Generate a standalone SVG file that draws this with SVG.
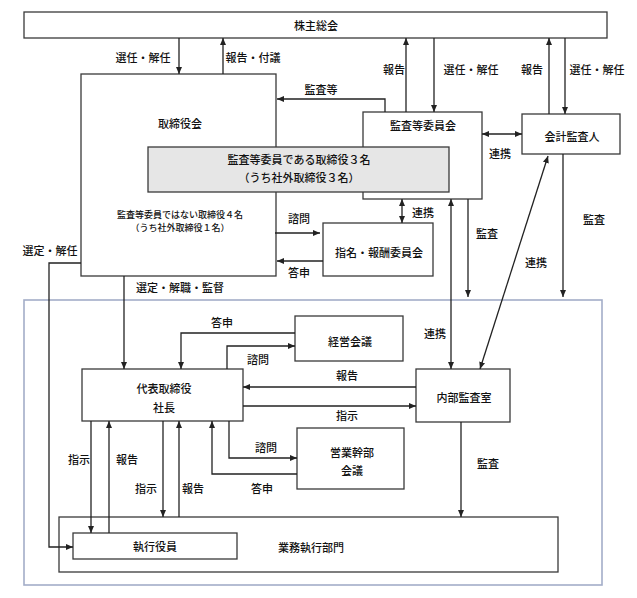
<svg xmlns="http://www.w3.org/2000/svg" width="637" height="598" viewBox="0 0 637 598">
<style>
.box{fill:#fff;stroke:#3a3a3a;stroke-width:1.3}
.gray{fill:#e6e6e6;stroke:#3a3a3a;stroke-width:1.3}
.frame{fill:none;stroke:#a3adc8;stroke-width:1.6}
.c{fill:none;stroke:#222;stroke-width:1.3}
.a{marker-end:url(#ah)}
.b{marker-start:url(#ah);marker-end:url(#ah)}
text{font-family:"Noto Sans CJK JP","Noto Sans",sans-serif;font-size:11px;font-weight:500;fill:#111;text-anchor:middle;dominant-baseline:central}
.s{font-size:9px}
</style>
<defs>
<marker id="ah" markerUnits="userSpaceOnUse" markerWidth="7" markerHeight="6" viewBox="0 0 7 6" refX="7" refY="3" orient="auto-start-reverse">
<path d="M0,0 L7,3 L0,6 z" fill="#222"/>
</marker>
</defs>
<rect class="frame" x="24" y="300" width="578" height="285"/>
<g id="shareholders"><rect class="box" x="24" y="12" width="583" height="26"/><text x="316" y="25">株主総会</text></g>
<g id="board"><rect class="box" x="81" y="74" width="195" height="202"/><text x="180" y="123">取締役会</text><text class="s" x="180" y="214">監査等委員ではない取締役４名</text><text class="s" x="180" y="227">（うち社外取締役１名）</text></g>
<g id="audit-committee"><rect class="box" x="363" y="112" width="119" height="87"/><text x="423" y="125">監査等委員会</text></g>
<g id="audit-directors"><rect class="gray" x="148" y="147" width="301" height="45"/><text x="299" y="159">監査等委員である取締役３名</text><text x="299" y="177">（うち社外取締役３名）</text></g>
<g id="accounting-auditor"><rect class="box" x="522" y="114" width="98" height="40"/><text x="572" y="136">会計監査人</text></g>
<g id="nomination"><rect class="box" x="323" y="223" width="110" height="53"/><text x="379" y="252">指名・報酬委員会</text></g>
<g id="president"><rect class="box" x="82" y="369" width="161" height="52"/><text x="164" y="388">代表取締役</text><text x="164" y="407">社長</text></g>
<g id="mgmt-meeting"><rect class="box" x="295" y="316" width="108" height="45"/><text x="350" y="341">経営会議</text></g>
<g id="internal-audit"><rect class="box" x="416" y="369" width="94" height="53"/><text x="464" y="397">内部監査室</text></g>
<g id="sales-meeting"><rect class="box" x="297" y="428" width="107" height="61"/><text x="352" y="452">営業幹部</text><text x="352" y="470">会議</text></g>
<g id="business-dept"><rect class="box" x="59" y="517" width="499" height="55"/><text x="311" y="547">業務執行部門</text></g>
<g id="exec-officers"><rect class="box" x="73" y="533" width="164" height="26"/><text x="155" y="546">執行役員</text></g>
<g id="connectors">
<path class="c a" d="M179 38 V74"/>
<path class="c a" d="M223 74 V38"/>
<path class="c a" d="M406 112 V38"/>
<path class="c a" d="M434 38 V112"/>
<path class="c a" d="M549 114 V38"/>
<path class="c a" d="M565 38 V114"/>
<path class="c a" d="M385 112 V99 H277"/>
<path class="c b" d="M482 134 H522"/>
<path class="c b" d="M402 199 V223"/>
<path class="c a" d="M275 233 H320"/>
<path class="c a" d="M323 261 H277"/>
<path class="c a" d="M81 263 H49 V547 H73"/>
<path class="c a" d="M124 276 V369"/>
<path class="c a" d="M563 154 V297"/>
<path class="c a" d="M468 199 V297"/>
<path class="c b" d="M451 199 V369"/>
<path class="c b" d="M480 369 L548 156"/>
<path class="c a" d="M295 333 H181 V369"/>
<path class="c a" d="M227 369 V346 H295"/>
<path class="c a" d="M416 387 H243"/>
<path class="c a" d="M243 406 H416"/>
<path class="c a" d="M91 421 V533"/>
<path class="c a" d="M109 533 V421"/>
<path class="c a" d="M163 421 V517"/>
<path class="c a" d="M179 517 V421"/>
<path class="c a" d="M229 421 V458 H297"/>
<path class="c a" d="M297 474 H212 V421"/>
<path class="c a" d="M461 422 V517"/>
</g>
<g id="labels">
<text x="143" y="57">選任・解任</text>
<text x="253" y="57">報告・付議</text>
<text x="394" y="69">報告</text>
<text x="471" y="69">選任・解任</text>
<text x="532" y="69">報告</text>
<text x="597" y="69">選任・解任</text>
<text x="321" y="89">監査等</text>
<text x="500" y="153">連携</text>
<text x="423" y="212">連携</text>
<text x="487" y="233">監査</text>
<text x="594" y="219">監査</text>
<text x="299" y="218">諮問</text>
<text x="299" y="272">答申</text>
<text x="50" y="250">選定・解任</text>
<text x="536" y="262">連携</text>
<text x="180" y="287">選定・解職・監督</text>
<text x="222" y="322">答申</text>
<text x="258" y="359">諮問</text>
<text x="435" y="333">連携</text>
<text x="347" y="375">報告</text>
<text x="347" y="415">指示</text>
<text x="266" y="447">諮問</text>
<text x="262" y="488">答申</text>
<text x="79" y="459">指示</text>
<text x="127" y="459">報告</text>
<text x="146" y="488">指示</text>
<text x="193" y="488">報告</text>
<text x="488" y="463">監査</text>
</g>
</svg>
